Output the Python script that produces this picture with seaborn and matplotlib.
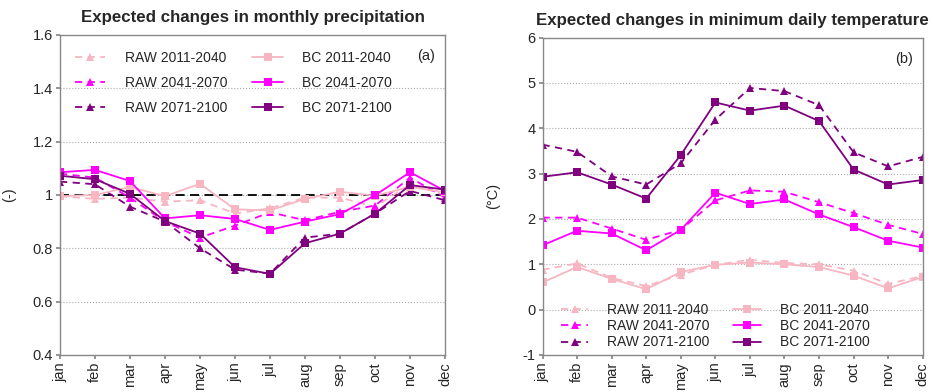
import matplotlib
matplotlib.use("Agg")
import matplotlib.pyplot as plt
import seaborn as sns
import numpy as np

sns.set_theme(style="white")
plt.rcParams['font.family'] = ['Liberation Sans', 'DejaVu Sans']
plt.rcParams['axes.unicode_minus'] = False

months = ["jan", "feb", "mar", "apr", "may", "jun", "jul", "aug", "sep", "oct", "nov", "dec"]
series_names = ["RAW 2011-2040", "RAW 2041-2070", "RAW 2071-2100",
                "BC 2011-2040", "BC 2041-2070", "BC 2071-2100"]

# Precipitation change factors (-)
prec_raw_2011 = [0.995, 0.985, 0.99, 0.975, 0.98, 0.93, 0.95, 0.99, 0.99, 0.955, 1.04, 1.0]
prec_raw_2041 = [1.08, 1.065, 0.99, 0.90, 0.84, 0.885, 0.935, 0.905, 0.937, 0.96, 1.065, 0.99]
prec_raw_2071 = [1.05, 1.04, 0.956, 0.90, 0.80, 0.72, 0.705, 0.84, 0.855, 0.93, 1.015, 0.98]
prec_bc_2011 = [0.995, 1.0, 1.03, 0.995, 1.042, 0.946, 0.942, 0.985, 1.012, 0.997, 1.03, 1.01]
prec_bc_2041 = [1.085, 1.094, 1.052, 0.912, 0.924, 0.91, 0.869, 0.90, 0.928, 0.999, 1.085, 1.015]
prec_bc_2071 = [1.072, 1.059, 1.004, 0.902, 0.855, 0.729, 0.704, 0.819, 0.855, 0.93, 1.037, 1.02]

# Minimum daily temperature change (°C)
tmin_raw_2011 = [0.88, 1.02, 0.70, 0.52, 0.77, 0.99, 1.10, 1.03, 1.00, 0.86, 0.57, 0.74]
tmin_raw_2041 = [2.03, 2.03, 1.79, 1.54, 1.76, 2.41, 2.63, 2.60, 2.37, 2.13, 1.87, 1.67]
tmin_raw_2071 = [3.64, 3.48, 2.94, 2.76, 3.23, 4.19, 4.89, 4.82, 4.51, 3.47, 3.16, 3.37]
tmin_bc_2011 = [0.60, 0.94, 0.68, 0.45, 0.83, 0.99, 1.04, 1.00, 0.94, 0.75, 0.47, 0.72]
tmin_bc_2041 = [1.42, 1.74, 1.68, 1.31, 1.76, 2.58, 2.33, 2.43, 2.10, 1.82, 1.52, 1.37]
tmin_bc_2071 = [2.93, 3.03, 2.76, 2.45, 3.41, 4.57, 4.39, 4.50, 4.16, 3.09, 2.76, 2.86]

colors = ["#F7B6C2", "#FF00FF", "#800080"]

prec = [prec_raw_2011, prec_raw_2041, prec_raw_2071, prec_bc_2011, prec_bc_2041, prec_bc_2071]
tmin = [tmin_raw_2011, tmin_raw_2041, tmin_raw_2071, tmin_bc_2011, tmin_bc_2041, tmin_bc_2071]

fig = plt.figure(figsize=(9.33, 3.92), dpi=100)
axA = fig.add_axes([0.0643, 0.0944, 0.4127, 0.8166])
axB = fig.add_axes([0.5815, 0.0944, 0.4075, 0.8096])

x = np.arange(len(months))
FS = 10.5
LFS = 10

def draw(ax, data):
    for i, (name, vals) in enumerate(zip(series_names, data)):
        raw = i < 3
        c = colors[i % 3]
        sns.lineplot(x=x, y=vals, ax=ax, color=c, linestyle="--" if raw else "-",
                     marker="^" if raw else "s", markersize=5.5, markeredgewidth=0,
                     linewidth=1.3, label=name)
    for ln in ax.get_lines()[:3]:
        ln.set_dashes((4, 3))
    ax.set_xlim(0, 11)
    ax.set_xticks(x)
    ax.set_xticklabels(months, rotation=90, fontsize=FS)
    for s in ax.spines.values():
        s.set_color("#888888")
        s.set_linewidth(1.0)
    ax.tick_params(axis="both", which="both", length=3, color="#888888", labelsize=FS,
                   direction="out", bottom=True, left=True, pad=2)
    ax.grid(axis="y", linestyle=":", color="#aaaaaa", linewidth=0.8)
    ax.set_axisbelow(True)

draw(axA, prec)
axA.axhline(1.0, color="black", linestyle=(0, (5, 3)), linewidth=1.3, zorder=1)
axA.set_ylim(0.4, 1.6)
axA.set_yticks([0.4, 0.6, 0.8, 1.0, 1.2, 1.4, 1.6])
axA.set_yticklabels(["0.4", "0.6", "0.8", "1", "1.2", "1.4", "1.6"])
axA.set_ylabel("(-)", fontsize=FS, labelpad=12)
axA.set_title("Expected changes in monthly precipitation", fontsize=12.2, fontweight="bold", pad=9)
axA.text(0.975, 0.955, "(a)", transform=axA.transAxes, ha="right", va="top", fontsize=FS)
axA.legend(loc="upper left", ncol=2, frameon=False, fontsize=LFS, handlelength=2.2,
           columnspacing=1.8, labelspacing=0.78, bbox_to_anchor=(0.024, 0.966),
           handletextpad=1.4, borderaxespad=0.0)

draw(axB, tmin)
axB.set_ylim(-1, 6)
axB.set_yticks(range(-1, 7))
axB.set_ylabel("(°C)", fontsize=FS, labelpad=16)
axB.set_title("Expected changes in minimum daily temperature", fontsize=12.2, fontweight="bold", pad=9)
axB.text(0.975, 0.955, "(b)", transform=axB.transAxes, ha="right", va="top", fontsize=FS)
axB.legend(loc="lower left", ncol=2, frameon=False, fontsize=LFS, handlelength=2.0,
           columnspacing=1.65, labelspacing=0.15, bbox_to_anchor=(0.033, 0.0),
           handletextpad=1.37, borderaxespad=0.0)

fig.savefig("out.png", dpi=100)
